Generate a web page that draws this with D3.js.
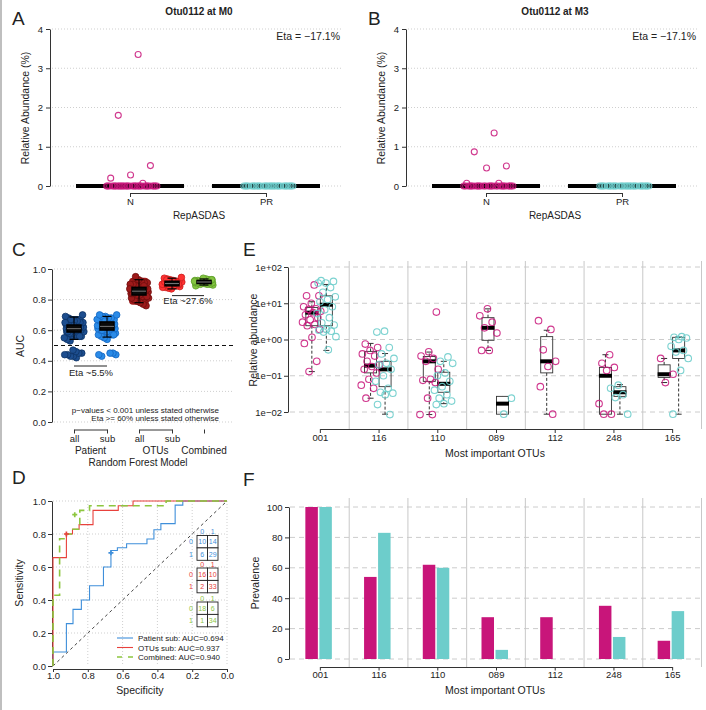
<!DOCTYPE html>
<html><head><meta charset="utf-8">
<script src="https://cdn.jsdelivr.net/npm/d3@7/dist/d3.min.js"></script>
<style>html,body{margin:0;padding:0;background:#fff;}svg{display:block;}</style>
</head><body>
<svg id="chart" width="706" height="710"></svg>
<script>
// ---------------- DATA ----------------
const groupsAB = ["N", "PR"];
const ticksAB = [0, 1, 2, 3, 4];
const titlesAB = ["Otu0112 at M0", "Otu0112 at M3"];
const etaAB = ["Eta = \u221217.1%", "Eta = \u221217.1%"];
const m0N = [3.35, 1.8, 0.52, 0.28, 0.2, 0.07, 0,0,0,0,0,0,0,0,0,0,0,0,0,0,0,0,0,0,0,0,0,0,0,0,0,0,0,0,0,0];
const m0PR = [0,0,0,0,0,0,0,0,0,0,0,0,0,0,0,0,0,0,0,0,0,0,0,0,0,0,0,0,0,0];
const m3N = [1.35, 0.87, 0.51, 0.46, 0.07, 0.07, 0,0,0,0,0,0,0,0,0,0,0,0,0,0,0,0,0,0,0,0,0,0,0,0,0,0];
const m3PR = [0,0,0,0,0,0,0,0,0,0,0,0,0,0,0,0,0,0,0,0,0,0,0,0,0,0,0,0,0,0];

// Panel C: AUC of random forest models
const cTicks = [0, 0.2, 0.4, 0.6, 0.8, 1.0];
const aucPatAll = [0.42,0.43,0.43,0.44,0.44,0.45,0.45,0.46,0.47,0.53,0.54,0.55,0.56,0.57,0.57,0.58,0.58,0.59,0.59,0.60,0.60,0.60,0.61,0.61,0.61,0.62,0.62,0.62,0.63,0.63,0.64,0.64,0.65,0.65,0.66,0.66,0.67,0.68,0.69,0.70,0.56,0.6,0.63,0.67,0.59,0.65];
const aucPatSub = [0.43,0.44,0.44,0.45,0.45,0.54,0.55,0.56,0.57,0.58,0.58,0.59,0.59,0.60,0.60,0.61,0.61,0.62,0.62,0.62,0.63,0.63,0.63,0.64,0.64,0.65,0.65,0.66,0.66,0.67,0.67,0.68,0.68,0.69,0.69,0.70,0.70,0.57,0.61,0.64,0.66,0.6];
const aucOtuAll = [0.76,0.77,0.78,0.79,0.80,0.81,0.81,0.82,0.82,0.83,0.83,0.84,0.84,0.85,0.85,0.85,0.86,0.86,0.86,0.87,0.87,0.88,0.88,0.89,0.89,0.90,0.90,0.91,0.91,0.92,0.93,0.95,0.84,0.87,0.82,0.89];
const aucOtuSub = [0.87,0.875,0.88,0.88,0.885,0.89,0.89,0.895,0.895,0.90,0.90,0.90,0.905,0.905,0.91,0.91,0.915,0.915,0.92,0.92,0.925,0.93,0.935,0.94,0.945,0.9,0.91,0.92,0.885,0.93];
const aucComb = [0.89,0.895,0.90,0.90,0.905,0.905,0.91,0.91,0.91,0.915,0.915,0.92,0.92,0.925,0.925,0.93,0.93,0.935,0.94,0.9,0.91,0.92,0.93,0.915];
const cLo  = [0.54, 0.555, 0.78, 0.87, 0.895];
const cQ1  = [0.588, 0.601, 0.83, 0.89, 0.905];
const cMed = [0.61, 0.625, 0.855, 0.905, 0.915];
const cQ3  = [0.634, 0.654, 0.88, 0.92, 0.925];
const cHi  = [0.686, 0.69, 0.93, 0.94, 0.935];

// Panel D: ROC curves (specificity, sensitivity corners)
const rocPatSpec = [1,1,0.923,0.923,0.885,0.885,0.837,0.837,0.79,0.79,0.71,0.71,0.667,0.667,0.63,0.63,0.577,0.577,0.46,0.46,0.42,0.42,0.38,0.38,0.298,0.298,0.254,0.254,0];
const rocPatSens = [0,0.085,0.085,0.257,0.257,0.343,0.343,0.40,0.40,0.486,0.486,0.60,0.60,0.70,0.70,0.717,0.717,0.741,0.741,0.77,0.77,0.826,0.826,0.863,0.863,0.975,0.975,1,1];
const rocOtuSpec = [1,1,0.923,0.923,0.888,0.888,0.85,0.85,0.77,0.77,0.625,0.625,0.54,0.54,0];
const rocOtuSens = [0,0.657,0.657,0.80,0.80,0.829,0.829,0.857,0.857,0.943,0.943,0.971,0.971,1,1];
const rocComSpec = [1,1,0.962,0.962,0.923,0.923,0.885,0.885,0.846,0.846,0.79,0.79,0.35,0.35,0];
const rocComSens = [0,0.429,0.429,0.771,0.771,0.80,0.80,0.829,0.829,0.943,0.943,0.971,0.971,1,1];
const rocThresh = [[0.667,0.686],[0.923,0.80],[0.875,0.917]];
const rocLegend = ["Patient sub: AUC=0.694", "OTUs sub: AUC=0.937", "Combined: AUC=0.940"];
const cmPat = [[10,14],[6,29]];
const cmOtu = [[16,10],[2,33]];
const cmCom = [[18,6],[1,34]];
const dTicks = [0, 0.2, 0.4, 0.6, 0.8, 1.0];

// Panel E: relative abundance of most important OTUs
const otus = ["001","116","110","089","112","248","165"];
const eTicks = [0.01, 0.1, 1, 10, 100];
const eTickLabels = ["1e\u221202", "1e\u221201", "1e+00", "1e+01", "1e+02"];
const magLo  = [0.13, 0.024, 0.0085, 0.5, 0.0087, 0.0087, 0.065];
const magQ1  = [2.4, 0.12, 0.07, 0.95, 0.12, 0.0087, 0.09];
const magMed = [5.5, 0.19, 0.25, 2.1, 0.25, 0.1, 0.11];
const magQ3  = [7.6, 0.47, 0.34, 4.0, 1.2, 0.17, 0.2];
const magHi  = [11, 0.78, 0.45, 7, 1.8, 0.38, 0.3];
const cyLo  = [0.5, 0.0087, 0.017, 0.0087, null, 0.0087, 0.0087];
const cyQ1  = [2.4, 0.05, 0.035, 0.0087, null, 0.027, 0.3];
const cyMed = [9.1, 0.15, 0.06, 0.017, null, 0.035, 0.5];
const cyQ3  = [16, 0.25, 0.125, 0.027, null, 0.05, 1.15];
const cyHi  = [33, 0.41, 0.25, 0.027, null, 0.057, 1.2];
const magPts = [
  [32, 16, 16, 10, 8, 7, 6.7, 6, 5.5, 4.8, 4, 3.5, 3, 2.6, 2.4, 1.9, 1.15, 0.78, 0.25, 0.13],
  [0.75, 0.6, 0.5, 0.4, 0.35, 0.25, 0.2, 0.18, 0.15, 0.12, 0.08, 0.055, 0.045, 0.024],
  [5.7, 0.46, 0.35, 0.3, 0.25, 0.15, 0.08, 0.075, 0.065, 0.024, 0.0085, 0.0085],
  [7, 4.5, 3, 2.1, 1.5, 0.5, 0.5],
  [3.3, 1.9, 0.52, 0.25, 0.18, 0.05, 0.0087],
  [0.38, 0.22, 0.17, 0.14, 0.017, 0.0087, 0.0087],
  [0.3, 0.11, 0.065]
];
const cyPts = [
  [42, 40, 36, 36, 27, 20, 15, 12.6, 11, 8, 6.6, 5.2, 4, 2.9, 2.5, 1.9, 1.8, 1.7, 1.6, 1.2, 0.52],
  [1.7, 1.6, 0.6, 0.4, 0.3, 0.22, 0.2, 0.15, 0.1, 0.07, 0.045, 0.035, 0.033, 0.03, 0.016, 0.0085],
  [0.33, 0.25, 0.22, 0.12, 0.1, 0.07, 0.05, 0.04, 0.03, 0.024, 0.02, 0.017, 0.016],
  [0.024, 0.0087],
  [],
  [0.055, 0.045, 0.03, 0.025, 0.0087],
  [1.2, 1.15, 1.1, 1.0, 0.65, 0.5, 0.45, 0.3, 0.14, 0.0087]
];

// Panel F: prevalence
const fTicks = [0, 20, 40, 60, 80, 100];
const magPrev = [100, 54, 62, 27.5, 27.5, 35, 12];
const cyPrev  = [100, 83, 60, 6, 0, 14.5, 31.5];

// ---------------- STYLE ----------------
const FONT = '"Liberation Sans", Arial, Helvetica, sans-serif';
const MAG = "#C8157A", CYA = "#6DCDCB";
const svg = d3.select("#chart").attr("font-family", FONT);
svg.append("rect").attr("width", 706).attr("height", 710).attr("fill", "#fff");
svg.append("line").attr("x1", 1).attr("x2", 1).attr("y1", 0).attr("y2", 710).attr("stroke", "#aaa").attr("stroke-width", 1.5);

const jit = (i, w) => ((((i + 1) * 0.6180339887) % 1) - 0.5) * w;

function text(g, x, y, s, size, anchor = "middle", o = {}) {
  const t = g.append("text").attr("x", x).attr("y", y).attr("font-size", size)
    .attr("text-anchor", anchor).attr("fill", o.fill || "#222").text(s);
  if (o.weight) t.attr("font-weight", o.weight);
  if (o.rotate) t.attr("transform", `rotate(-90,${x},${y})`).attr("dy", "0.35em");
  return t;
}
function styleAxis(sel, fs) {
  sel.attr("font-family", FONT).attr("font-size", fs);
  sel.selectAll("path.domain").attr("stroke", "#333");
  sel.selectAll(".tick line").attr("stroke", "#333");
  sel.selectAll(".tick text").attr("fill", "#222");
}
function hgrid(g, vals, y, x1, x2, dash, col) {
  g.append("g").selectAll("line").data(vals).join("line")
    .attr("x1", x1).attr("x2", x2).attr("y1", d => y(d)).attr("y2", d => y(d))
    .attr("stroke", col).attr("stroke-dasharray", dash);
}

// ---------------- PANELS A / B ----------------
function panelAB(ox, letter, title, eta, nVals, prVals) {
  const g = svg.append("g");
  const y = d3.scaleLinear([0, 4], [186, 29]);
  const x = d3.scalePoint(groupsAB, [130 + ox, 266 + ox]);
  text(g, 12 + ox, 25, letter, 19, "start");
  text(g, 199 + ox, 15, title, 10, "middle", { weight: "bold" });
  hgrid(g, ticksAB, y, 52 + ox, 342 + ox, "1,2", "#cfcfcf");
  const ay = g.append("g").attr("transform", `translate(${50 + ox},0)`)
    .call(d3.axisLeft(y).tickValues(ticksAB).tickSize(4).tickSizeOuter(0).tickPadding(3).tickFormat(d3.format("d")));
  styleAxis(ay, 9.5);
  text(g, 25 + ox, 108, "Relative Abundance (%)", 10.5, "middle", { rotate: true });
  text(g, 340 + ox, 40, eta, 10.5, "end");
  groupsAB.forEach(k => g.append("line").attr("x1", x(k) - 54).attr("x2", x(k) + 54)
    .attr("y1", y(0)).attr("y2", y(0)).attr("stroke", "#000").attr("stroke-width", 4));
  [[nVals, "N", MAG], [prVals, "PR", CYA]].forEach(([vals, k, col]) => {
    g.append("g").selectAll("circle").data(vals).join("circle")
      .attr("cx", (d, i) => x(k) + 2 + jit(i, 52)).attr("cy", d => y(d)).attr("r", 3)
      .attr("fill", "none").attr("stroke", col).attr("stroke-width", 1.1).attr("opacity", 0.85);
  });
  const ax = g.append("g").attr("transform", "translate(0,193)")
    .call(d3.axisBottom(x).tickSize(4).tickSizeOuter(0).tickPadding(1.5));
  styleAxis(ax, 9.5);
  text(g, 199 + ox, 219, "RepASDAS", 10, "middle");
}
panelAB(0, "A", titlesAB[0], etaAB[0], m0N, m0PR);
panelAB(356, "B", titlesAB[1], etaAB[1], m3N, m3PR);

// ---------------- PANEL C ----------------
(function () {
  const g = svg.append("g");
  const y = d3.scaleLinear([0, 1], [422, 269]);
  const xs = [74, 107, 139, 172, 204];
  const fills = ["#1D4E8F", "#2A8BE8", "#9E1A1A", "#FF3333", "#84C441"];
  const strokes = ["#0E3466", "#1466C0", "#6E0E0E", "#CC1E1E", "#5E9E2A"];
  const sets = [aucPatAll, aucPatSub, aucOtuAll, aucOtuSub, aucComb];
  text(g, 12, 256, "C", 19, "start");
  hgrid(g, cTicks, y, 54, 233, "1,2", "#cfcfcf");
  g.append("line").attr("x1", 54).attr("x2", 233).attr("y1", y(0.5)).attr("y2", y(0.5))
    .attr("stroke", "#111").attr("stroke-dasharray", "4,3");
  const ay = g.append("g").attr("transform", "translate(52,0)")
    .call(d3.axisLeft(y).tickValues(cTicks).tickSize(4).tickSizeOuter(0).tickPadding(2).tickFormat(d3.format(".1f")));
  styleAxis(ay, 9.5);
  text(g, 20, 346, "AUC", 10.5, "middle", { rotate: true });
  sets.forEach((vals, k) => {
    const main = vals.filter(v => v >= 0.5);
    const ext = d3.extent(main);
    g.append("rect").attr("x", xs[k] - 10).attr("width", 20).attr("y", y(ext[1]) + 1).attr("height", y(ext[0]) - y(ext[1]) - 2)
      .attr("rx", 4).attr("fill", fills[k]);
    g.append("g").selectAll("circle").data(vals).join("circle")
      .attr("cx", (d, i) => xs[k] + jit(i * 3 + k, 20)).attr("cy", d => y(d)).attr("r", 3.3)
      .attr("fill", fills[k]).attr("stroke", strokes[k]).attr("stroke-width", 0.8);
    const b = g.append("g");
    b.append("line").attr("x1", xs[k]).attr("x2", xs[k]).attr("y1", y(cLo[k])).attr("y2", y(cHi[k])).attr("stroke", "#000");
    [cLo[k], cHi[k]].forEach(v => b.append("line").attr("x1", xs[k] - 4.5).attr("x2", xs[k] + 4.5)
      .attr("y1", y(v)).attr("y2", y(v)).attr("stroke", "#000").attr("stroke-width", 1.2));
    b.append("rect").attr("x", xs[k] - 7).attr("width", 14).attr("y", y(cQ3[k])).attr("height", y(cQ1[k]) - y(cQ3[k]))
      .attr("fill", "#0a0a0a").attr("stroke", "#000").attr("stroke-width", 1.5);
    b.append("line").attr("x1", xs[k] - 7).attr("x2", xs[k] + 7).attr("y1", y(cMed[k])).attr("y2", y(cMed[k]))
      .attr("stroke", "#777").attr("stroke-width", 1);
  });
  // eta annotations
  g.append("line").attr("x1", 74).attr("x2", 107).attr("y1", y(0.366)).attr("y2", y(0.366)).attr("stroke", "#222");
  text(g, 91, 376, "Eta ~5.5%", 9.5, "middle");
  g.append("line").attr("x1", 172).attr("x2", 204).attr("y1", y(0.826)).attr("y2", y(0.826)).attr("stroke", "#222");
  text(g, 188, 304, "Eta ~27.6%", 9.5, "middle");
  text(g, 219, 413, "p\u2212values < 0.001 unless stated otherwise", 8, "end");
  text(g, 219, 421, "Eta >= 60% unless stated otherwise", 8, "end");
  // bottom axes
  const xP = d3.scalePoint(["all", "sub"], [xs[0], xs[1]]);
  const xO = d3.scalePoint(["all", "sub"], [xs[2], xs[3]]);
  const xC = d3.scalePoint(["Combined"], [xs[4], xs[4]]);
  [[xP, d => d], [xO, d => d], [xC, () => ""]].forEach(([sc, fmt]) => {
    const a = g.append("g").attr("transform", "translate(0,429.5)")
      .call(d3.axisBottom(sc).tickSize(4).tickSizeOuter(0).tickPadding(1.5).tickFormat(fmt));
    styleAxis(a, 9.5);
  });
  text(g, (xs[0] + xs[1]) / 2, 454, "Patient", 10, "middle");
  text(g, (xs[2] + xs[3]) / 2, 454, "OTUs", 10, "middle");
  text(g, xs[4], 454, "Combined", 10, "middle");
  text(g, 138, 466, "Random Forest Model", 10, "middle");
})();

// ---------------- PANEL D ----------------
(function () {
  const g = svg.append("g");
  const x = d3.scaleLinear([1, 0], [53, 227]);
  const y = d3.scaleLinear([0, 1], [666, 501]);
  text(g, 12, 484, "D", 19, "start");
  hgrid(g, dTicks.slice(1), y, 53, 227, "1,2", "#cfcfcf");
  g.append("g").selectAll("line").data(dTicks.slice(0, 5)).join("line")
    .attr("x1", d => x(d)).attr("x2", d => x(d)).attr("y1", 501).attr("y2", 666)
    .attr("stroke", "#cfcfcf").attr("stroke-dasharray", "1,2");
  g.append("line").attr("x1", x(1)).attr("y1", y(0)).attr("x2", x(0)).attr("y2", y(1))
    .attr("stroke", "#444").attr("stroke-dasharray", "3,3");
  const ay = g.append("g").attr("transform", "translate(52,0)")
    .call(d3.axisLeft(y).tickValues(dTicks).tickSize(4).tickSizeOuter(0).tickPadding(2).tickFormat(d3.format(".1f")));
  styleAxis(ay, 9.5);
  const ax = g.append("g").attr("transform", "translate(0,669)")
    .call(d3.axisBottom(x).tickValues(dTicks).tickSize(3).tickSizeOuter(0).tickPadding(0.5).tickFormat(d3.format(".1f")));
  styleAxis(ax, 9.5);
  text(g, 140, 694, "Specificity", 10.5, "middle");
  text(g, 19, 583, "Sensitivity", 10.5, "middle", { rotate: true });
  const line = d3.line().x(d => x(d[0])).y(d => y(d[1]));
  const curves = [
    [d3.zip(rocPatSpec, rocPatSens), "#3F8FDA", null, 1.1],
    [d3.zip(rocOtuSpec, rocOtuSens), "#E8413C", null, 1.1],
    [d3.zip(rocComSpec, rocComSens), "#8DC63F", "7,5", 1.6]
  ];
  curves.forEach(([pts, col, dash, w]) => {
    const p = g.append("path").attr("d", line(pts)).attr("fill", "none").attr("stroke", col).attr("stroke-width", w);
    if (dash) p.attr("stroke-dasharray", dash);
  });
  rocThresh.forEach((t, i) => g.append("path")
    .attr("d", d3.symbol(d3.symbolCross, 14)()).attr("transform", `translate(${x(t[0])},${y(t[1])})`)
    .attr("fill", curves[i][1]));
  // confusion matrices
  function confMat(x0, y0, m, col) {
    const cw = 10.5, ch = 12.4;
    ["0", "1"].forEach((l, j) => text(g, x0 + cw * (j + 0.5), y0 - 1.5, l, 7, "middle", { fill: col }));
    ["0", "1"].forEach((l, i) => text(g, x0 - 6, y0 + ch * (i + 0.5) + 2.5, l, 7, "middle", { fill: col }));
    m.forEach((row, i) => row.forEach((v, j) => {
      g.append("rect").attr("x", x0 + j * cw).attr("y", y0 + i * ch).attr("width", cw).attr("height", ch)
        .attr("fill", "#fff").attr("stroke", "#222").attr("stroke-width", 0.9);
      text(g, x0 + cw * (j + 0.5), y0 + ch * (i + 0.5) + 2.5, v, 7, "middle", { fill: col });
    }));
  }
  confMat(197, 535.5, cmPat, "#3F8FDA");
  confMat(197, 568, cmOtu, "#E8413C");
  confMat(197, 602, cmCom, "#8DC63F");
  // legend
  rocLegend.forEach((s, i) => {
    const yy = 638 + i * 9.5;
    const l = g.append("line").attr("x1", 117).attr("x2", 133).attr("y1", yy).attr("y2", yy)
      .attr("stroke", curves[i][1]).attr("stroke-width", curves[i][3]);
    if (curves[i][2]) l.attr("stroke-dasharray", "5,6");
    text(g, 138, yy + 3, s, 8, "start");
  });
})();

// ---------------- PANEL E ----------------
const xBand = d3.scaleBand(otus, [290.5, 701.5]);
const cen = o => xBand(o) + xBand.bandwidth() / 2;
function separators(g, y1, y2) {
  g.append("g").selectAll("line").data(otus).join("line")
    .attr("x1", d => xBand(d) + xBand.bandwidth()).attr("x2", d => xBand(d) + xBand.bandwidth())
    .attr("y1", y1).attr("y2", y2).attr("stroke", "#c8c8c8");
}
(function () {
  const g = svg.append("g");
  const y = d3.scaleLog([0.01, 100], [412, 267]);
  text(g, 243, 256, "E", 19, "start");
  hgrid(g, eTicks, y, 290, 702, "5,4", "#cccccc");
  separators(g, 261, 429);
  const ay = g.append("g").attr("transform", "translate(288,0)")
    .call(d3.axisLeft(y).tickValues(eTicks).tickSize(4).tickSizeOuter(0).tickPadding(2)
      .tickFormat((d, i) => eTickLabels[i]));
  styleAxis(ay, 9.5);
  text(g, 253, 340, "Relative abundance", 10.5, "middle", { rotate: true });
  function box(cx, lo, q1, med, q3, hi) {
    const b = g.append("g");
    b.append("line").attr("x1", cx).attr("x2", cx).attr("y1", y(q1)).attr("y2", y(lo)).attr("stroke", "#333").attr("stroke-dasharray", "3,2");
    b.append("line").attr("x1", cx).attr("x2", cx).attr("y1", y(q3)).attr("y2", y(hi)).attr("stroke", "#333").attr("stroke-dasharray", "3,2");
    [lo, hi].forEach(v => { if (v !== q1 && v !== q3) b.append("line").attr("x1", cx - 3).attr("x2", cx + 3).attr("y1", y(v)).attr("y2", y(v)).attr("stroke", "#333"); });
    b.append("rect").attr("x", cx - 6).attr("width", 12).attr("y", y(q3)).attr("height", y(q1) - y(q3))
      .attr("fill", "none").attr("stroke", "#333").attr("stroke-width", 0.9);
    b.append("line").attr("x1", cx - 6.5).attr("x2", cx + 6.5).attr("y1", y(med)).attr("y2", y(med)).attr("stroke", "#000").attr("stroke-width", 4);
  }
  otus.forEach((o, k) => {
    const c = cen(o);
    box(c - 8, magLo[k], magQ1[k], magMed[k], magQ3[k], magHi[k]);
    if (cyMed[k] !== null) box(c + 6.5, cyLo[k], cyQ1[k], cyMed[k], cyQ3[k], cyHi[k]);
    g.append("g").selectAll("circle").data(magPts[k]).join("circle")
      .attr("cx", (d, i) => c - 8 + jit(i + k, 20)).attr("cy", d => y(d)).attr("r", 3.3)
      .attr("fill", "none").attr("stroke", MAG).attr("stroke-width", 1.1).attr("opacity", 0.85);
    g.append("g").selectAll("circle").data(cyPts[k]).join("circle")
      .attr("cx", (d, i) => c + 6.5 + jit(i + 2 * k + 1, 20)).attr("cy", d => y(d)).attr("r", 3.3)
      .attr("fill", "none").attr("stroke", CYA).attr("stroke-width", 1.1).attr("opacity", 0.9);
  });
  const xp = d3.scalePoint(otus, [cen(otus[0]), cen(otus[otus.length - 1])]);
  const ax = g.append("g").attr("transform", "translate(0,429)")
    .call(d3.axisBottom(xp).tickSize(4).tickSizeOuter(0).tickPadding(1));
  styleAxis(ax, 9.5);
  text(g, 495, 457, "Most important OTUs", 10.5, "middle");
})();

// ---------------- PANEL F ----------------
(function () {
  const g = svg.append("g");
  const y = d3.scaleLinear([0, 100], [659, 507]);
  text(g, 243, 486, "F", 19, "start");
  hgrid(g, fTicks, y, 290, 702, "5,4", "#cccccc");
  separators(g, 498, 667);
  const ay = g.append("g").attr("transform", "translate(289,0)")
    .call(d3.axisLeft(y).tickValues(fTicks).tickSize(4).tickSizeOuter(0).tickPadding(2.5).tickFormat(d3.format("d")));
  styleAxis(ay, 9.5);
  text(g, 255, 583, "Prevalence", 10.5, "middle", { rotate: true });
  g.append("g").selectAll("rect").data(otus).join("rect")
    .attr("x", d => cen(d) - 14.5).attr("width", 12.5)
    .attr("y", (d, i) => y(magPrev[i])).attr("height", (d, i) => y(0) - y(magPrev[i])).attr("fill", MAG);
  g.append("g").selectAll("rect").data(otus).join("rect")
    .attr("x", d => cen(d) - 0.5).attr("width", 12.5)
    .attr("y", (d, i) => y(cyPrev[i])).attr("height", (d, i) => y(0) - y(cyPrev[i])).attr("fill", CYA);
  const xp = d3.scalePoint(otus, [cen(otus[0]), cen(otus[otus.length - 1])]);
  const ax = g.append("g").attr("transform", "translate(0,667)")
    .call(d3.axisBottom(xp).tickSize(3.5).tickSizeOuter(0).tickPadding(1));
  styleAxis(ax, 9.5);
  text(g, 495, 694, "Most important OTUs", 10.5, "middle");
})();
</script>
</body></html>
